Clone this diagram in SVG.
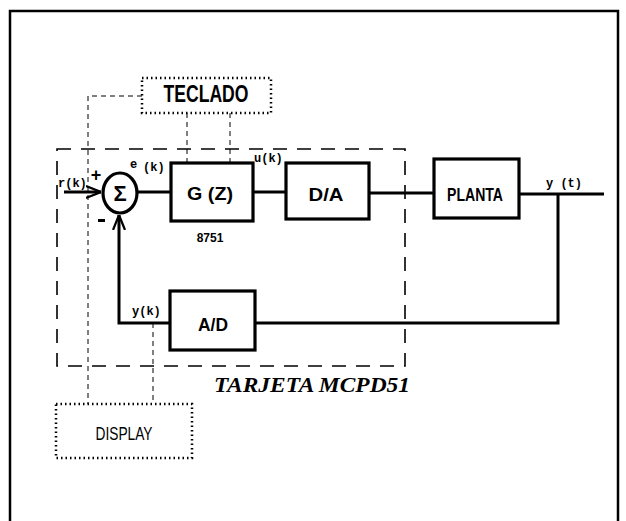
<svg xmlns="http://www.w3.org/2000/svg" width="626" height="521" viewBox="0 0 626 521">
<style>
.wire{fill:none;stroke:#000;stroke-width:3}
.box{fill:#fff;stroke:#000;stroke-width:3.2}
.board{fill:none;stroke:#000;stroke-width:1.6;stroke-dasharray:14 10}
.dash{fill:none;stroke:#000;stroke-width:1;stroke-dasharray:5 4}
.dot{fill:none;stroke:#000;stroke-width:2.5;stroke-dasharray:1.5 3}
.lbl{font-family:"Liberation Sans",Arial,sans-serif;font-weight:bold;text-anchor:middle}
.sm{font-family:"Liberation Mono","Courier New",monospace;font-weight:bold;font-size:12px}
</style>
<defs>
<marker id="ah" viewBox="0 0 10 10" refX="10" refY="5" markerWidth="5" markerHeight="5" orient="auto" markerUnits="strokeWidth">
<path d="M0,1 L10,5 L0,9" fill="none" stroke="#000" stroke-width="1.5"/>
</marker>
</defs>
<rect width="626" height="521" fill="#fff"/>
<path d="M10,530 V11 H618 V530" fill="none" stroke="#000" stroke-width="2.5"/>
<g id="board">
<rect class="board" x="57" y="149" width="348" height="217"/>
<text x="312" y="392" font-family="'Liberation Serif','Times New Roman',serif" font-style="italic" font-weight="bold" font-size="22" text-anchor="middle" textLength="196" lengthAdjust="spacingAndGlyphs">TARJETA MCPD51</text>
</g>
<g id="connectors">
<path class="wire" d="M64,192 H101" marker-end="url(#ah)"/>
<path class="wire" d="M137,192 H171"/>
<path class="wire" d="M253,192 H286"/>
<path class="wire" d="M369,193 H434"/>
<path class="wire" d="M519,194 H604"/>
<path class="wire" d="M558,194 V323 H255"/>
<path class="wire" d="M170,323 H119 V215" marker-end="url(#ah)"/>
<path class="dash" d="M142,96 H88 V404"/>
<path class="dash" d="M187,113 V163"/>
<path class="dash" d="M230,113 V163"/>
<path class="dash" d="M153,323 V404"/>
<text class="sm" x="58" y="187">r(k)</text>
<text x="96" y="181" font-family="'Liberation Sans',Arial,sans-serif" font-weight="bold" font-size="18" text-anchor="middle">+</text>
<rect x="98" y="219" width="7" height="3" fill="#000"/>
<text class="sm" x="130" y="168" font-size="9">e</text>
<text class="sm" x="143" y="171">(k)</text>
<text class="sm" x="254" y="162">u(k)</text>
<text class="sm" x="546" y="187">y (t)</text>
<text class="sm" x="132" y="315">y(k)</text>
</g>
<g id="sum">
<ellipse cx="120" cy="193" rx="17" ry="20" fill="#fff" stroke="#000" stroke-width="3.2"/>
<text class="lbl" x="120" y="201" font-size="22" font-weight="normal">Σ</text>
</g>
<g id="gz">
<rect class="box" x="171" y="163" width="82" height="58"/>
<text class="lbl" x="210" y="200" font-size="19" textLength="46" lengthAdjust="spacingAndGlyphs">G (Z)</text>
<text class="lbl" x="210" y="242" font-size="12">8751</text>
</g>
<g id="da">
<rect class="box" x="286" y="163" width="83" height="56"/>
<text class="lbl" x="326" y="201" font-size="19" textLength="35" lengthAdjust="spacingAndGlyphs">D/A</text>
</g>
<g id="planta">
<rect class="box" x="434" y="159" width="85" height="59"/>
<text class="lbl" x="475" y="201" font-size="19" textLength="56" lengthAdjust="spacingAndGlyphs">PLANTA</text>
</g>
<g id="ad">
<rect class="box" x="170" y="291" width="85" height="59"/>
<text class="lbl" x="213" y="331" font-size="19" textLength="30" lengthAdjust="spacingAndGlyphs">A/D</text>
</g>
<g id="teclado">
<rect class="dot" x="142" y="78" width="129" height="35"/>
<text class="lbl" x="206" y="102" font-size="23" textLength="85" lengthAdjust="spacingAndGlyphs">TECLADO</text>
</g>
<g id="display">
<rect class="dot" x="56" y="404" width="136" height="54"/>
<text x="124" y="440" font-family="'Liberation Sans',Arial,sans-serif" font-size="19" text-anchor="middle" textLength="57" lengthAdjust="spacingAndGlyphs">DISPLAY</text>
</g>
</svg>
